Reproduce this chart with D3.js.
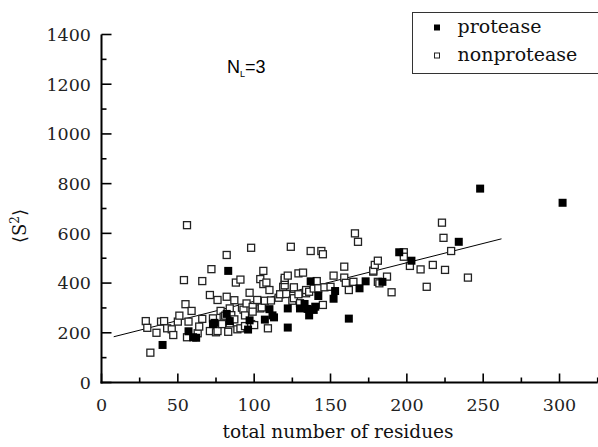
<!DOCTYPE html>
<html><head><meta charset="utf-8">
<script src="https://cdn.jsdelivr.net/npm/d3@7"></script>
<style>body{margin:0;background:#fff}svg{display:block}</style>
</head><body>
<svg id="c" width="598" height="447"></svg>
<script>
// ---- data ----
const protease = [[40,151],[57,206],[60,182],[62,180],[73,235],[74,240],[82,276],[84,247],[83,449],[96,213],[97,250],[107,253],[110,295],[112,270],[113,262],[122,298],[122,221],[130,298],[133,316],[135,296],[136,270],[137,407],[139,292],[140,305],[142,348],[152,337],[153,368],[162,257],[169,379],[173,407],[184,405],[195,524],[203,490],[234,566],[248,780],[302,723]];
const nonprotease = [[29,247],[30,220],[32,120],[36,200],[39,245],[41,247],[43,218],[46,214],[47,191],[50,245],[51,269],[54,412],[55,315],[56,182],[56,633],[57,245],[59,288],[63,198],[64,225],[66,256],[66,408],[71,207],[71,352],[72,456],[73,258],[75,202],[76,332],[76,207],[78,288],[79,235],[80,265],[81,269],[82,513],[82,345],[83,204],[84,298],[84,238],[85,271],[87,331],[87,254],[88,402],[89,214],[91,414],[91,218],[92,301],[93,293],[94,227],[94,270],[95,318],[97,361],[98,542],[98,235],[99,304],[99,285],[100,231],[102,332],[104,298],[105,302],[104,416],[106,449],[106,396],[107,329],[108,402],[109,218],[110,372],[111,330],[116,341],[117,355],[119,385],[120,391],[120,412],[120,421],[121,356],[122,430],[124,546],[125,329],[126,339],[126,377],[126,383],[129,439],[129,355],[130,319],[132,442],[134,359],[134,372],[136,365],[137,529],[139,378],[141,408],[142,379],[144,529],[145,516],[145,312],[146,383],[150,385],[152,430],[159,466],[159,422],[160,401],[162,372],[165,405],[166,600],[168,566],[178,446],[178,450],[179,473],[181,405],[181,490],[182,399],[187,426],[190,363],[198,524],[198,506],[202,469],[209,455],[213,385],[217,473],[223,643],[224,582],[225,453],[229,529],[240,422]];
const fitLine = [[8,184],[262,578]];
const xTicks = [0,50,100,150,200,250,300];
const xMinor = [25,75,125,175,225,275,325];
const yTicks = [0,200,400,600,800,1000,1200,1400];
const yMinor = [100,300,500,700,900,1100,1300];
const legendItems = ["protease","nonprotease"];
const annotation = {main:"N", sub:"L", rest:"=3"};

// ---- chart ----
const svg = d3.select("#c");
const x = d3.scaleLinear().domain([0,325]).range([101.5,597.7]);
const y = d3.scaleLinear().domain([0,1400]).range([382.5,34.5]);
const serif = "'DejaVu Serif', serif";

// axes
const xAxis = svg.append("g").attr("transform",`translate(0,${y(0)})`);
xAxis.append("line").attr("x1",x(0)-1).attr("x2",x(325)).attr("stroke","#000").attr("stroke-width",2);
xAxis.selectAll(".mj").data(xTicks).join("line").attr("x1",d=>x(d)).attr("x2",d=>x(d)).attr("y1",0).attr("y2",-9).attr("stroke","#000").attr("stroke-width",1.6);
xAxis.selectAll(".mn").data(xMinor).join("line").attr("x1",d=>x(d)).attr("x2",d=>x(d)).attr("y1",0).attr("y2",-5).attr("stroke","#000").attr("stroke-width",1.6);
xAxis.selectAll("text").data(xTicks).join("text").attr("x",d=>x(d)).attr("y",28).attr("text-anchor","middle")
  .attr("font-family",serif).attr("font-size",17.5).attr("fill","#222").text(d=>d);

const yAxis = svg.append("g").attr("transform",`translate(${x(0)},0)`);
yAxis.append("line").attr("y1",y(0)+1).attr("y2",y(1400)).attr("stroke","#000").attr("stroke-width",2);
yAxis.selectAll(".mj").data(yTicks).join("line").attr("y1",d=>y(d)).attr("y2",d=>y(d)).attr("x1",0).attr("x2",10).attr("stroke","#000").attr("stroke-width",1.6);
yAxis.selectAll(".mn").data(yMinor).join("line").attr("y1",d=>y(d)).attr("y2",d=>y(d)).attr("x1",0).attr("x2",5).attr("stroke","#000").attr("stroke-width",1.6);
yAxis.selectAll("text").data(yTicks).join("text").attr("x",-10.5).attr("y",d=>y(d)).attr("dy","0.36em").attr("text-anchor","end")
  .attr("font-family",serif).attr("font-size",17.5).attr("fill","#222").text(d=>d);

// titles
svg.append("text").attr("x",338).attr("y",438).attr("text-anchor","middle").attr("font-family",serif).attr("font-size",18.5).attr("fill","#111").text("total number of residues");
const yl = svg.append("text").attr("transform","translate(26,226) rotate(-90)").attr("text-anchor","middle").attr("font-family",serif).attr("font-size",18).attr("fill","#111");
yl.append("tspan").text("\u27E8S");
yl.append("tspan").attr("dy",-7).attr("font-size",12).text("2");
yl.append("tspan").attr("dy",7).text("\u27E9");

// annotation
const an = svg.append("text").attr("x",227).attr("y",73).attr("font-family","'Liberation Sans', Arial, sans-serif").attr("font-size",18).attr("fill","#000");
an.append("tspan").text(annotation.main);
an.append("tspan").attr("dy",4).attr("font-size",9).text(annotation.sub);
an.append("tspan").attr("dy",-4).text(annotation.rest);

// fit line
svg.append("line").attr("x1",x(fitLine[0][0])).attr("y1",y(fitLine[0][1])).attr("x2",x(fitLine[1][0])).attr("y2",y(fitLine[1][1])).attr("stroke","#000").attr("stroke-width",1);

// points
const s = 7;
svg.append("g").selectAll("rect").data(nonprotease).join("rect")
  .attr("x",d=>x(d[0])-s/2).attr("y",d=>y(d[1])-s/2).attr("width",s).attr("height",s)
  .attr("fill","#fff").attr("stroke","#222").attr("stroke-width",1.3);
const f = 8;
svg.append("g").selectAll("rect").data(protease).join("rect")
  .attr("x",d=>x(d[0])-f/2).attr("y",d=>y(d[1])-f/2).attr("width",f).attr("height",f)
  .attr("fill","#000");

// legend
const lg = svg.append("g");
lg.append("rect").attr("x",412.5).attr("y",12.5).attr("width",190).attr("height",61).attr("fill","#fff").attr("stroke","#333").attr("stroke-width",1);
legendItems.forEach((t,i)=>{
  const cy = 27 + i*28;
  if(i===0) lg.append("rect").attr("x",434).attr("y",cy-2.5).attr("width",6).attr("height",6).attr("fill","#000");
  else lg.append("rect").attr("x",434.5).attr("y",cy-2).attr("width",5).attr("height",5).attr("fill","#fff").attr("stroke","#222").attr("stroke-width",1);
  lg.append("text").attr("x",457.5).attr("y",cy).attr("dy","0.33em").attr("font-family",serif).attr("font-size",19).attr("fill","#111").text(t);
});
</script>
</body></html>
